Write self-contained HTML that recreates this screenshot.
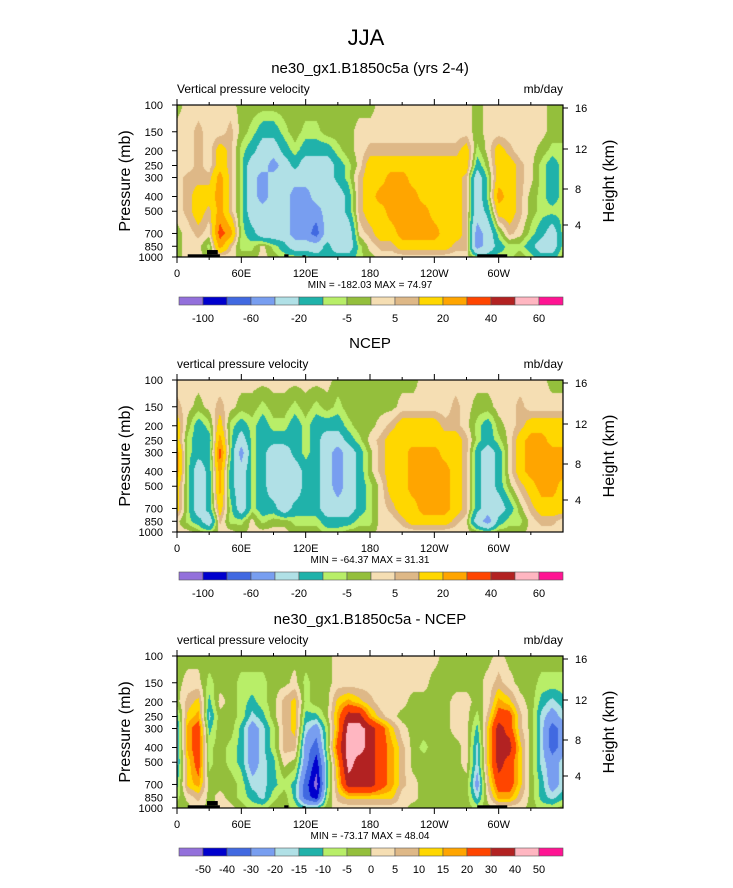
<!DOCTYPE html>
<html><head><meta charset="utf-8"><title>JJA vertical pressure velocity</title>
<style>
html,body{margin:0;padding:0;background:#fff;}
#wrap{position:relative;width:733px;height:888px;overflow:hidden;font-family:"Liberation Sans",sans-serif;}
canvas{position:absolute;}
svg{position:absolute;left:0;top:0;}
</style></head>
<body>
<div id="wrap">
<canvas id="c1" width="386" height="152" style="left:177px;top:105px"></canvas>
<canvas id="c2" width="386" height="152" style="left:177px;top:380px"></canvas>
<canvas id="c3" width="386" height="152" style="left:177px;top:656px"></canvas>
<svg id="svg" width="733" height="888"></svg>
</div>
<script>
// ---- data ----
const pressureLevels=[100,150,200,250,300,400,500,700,850,1000];
const lonStep=10;
const modelField=[
[-2,2,2,2,2,2,-2,-2,-2,-2,-2,-2,-2,-2,-2,-2,-2,-2,-2,2,2,2,2,2,2,2,2,2,-2,2,2,2,2,2,2,-2,-2],
[2,2,7,2,2,7,-2,-7,-15,-15,-7,-2,-7,-7,-2,-2,-2,2,2,2,2,2,2,2,2,2,2,2,-2,2,2,2,2,2,2,-2,-2],
[2,2,7,2,15,7,-7,-15,-30,-30,-15,-7,-15,-15,-15,-7,-2,2,7,7,7,7,7,7,7,7,7,15,-7,2,15,7,2,2,-2,-7,-7],
[2,2,7,2,15,7,-7,-30,-30,-50,-30,-15,-30,-30,-30,-15,-7,2,15,15,15,15,15,15,15,15,15,15,-15,-2,15,15,7,2,-7,-15,-7],
[2,7,7,7,25,7,-7,-30,-50,-30,-30,-30,-30,-30,-30,-15,-7,7,15,15,25,25,15,15,15,15,15,7,-30,-7,15,15,7,2,-7,-15,-7],
[2,7,15,15,25,7,-7,-30,-50,-30,-30,-50,-50,-30,-30,-30,-15,7,15,25,25,25,25,15,15,15,15,7,-30,-7,25,15,7,-2,-7,-15,-7],
[2,7,15,7,25,7,-7,-30,-30,-30,-30,-50,-50,-50,-30,-30,-15,7,15,15,25,25,25,25,15,15,15,7,-30,-15,15,15,7,-2,-7,-7,-7],
[-2,2,7,2,35,25,-7,-15,-30,-30,-30,-50,-50,-70,-30,-30,-30,2,7,15,15,25,25,25,25,15,15,7,-50,-30,-7,7,2,-7,-15,-30,-7],
[-2,2,2,-7,25,7,-7,-7,2,-7,-15,-30,-30,-30,-15,-30,-30,-7,2,7,7,15,15,15,15,15,7,7,-50,-30,-15,-7,-7,-15,-30,-30,-7],
[-2,2,2,-2,2,2,-2,-2,2,-2,-7,-7,-7,-15,-15,-15,-15,-7,-2,2,2,2,2,2,2,2,2,2,-7,-15,-7,-7,-2,-7,-15,-15,-2]
];
const ncepField=[
[2,2,2,2,2,2,2,2,2,2,2,2,2,2,2,-2,-2,-2,-2,-2,-2,-2,-2,2,2,2,2,2,2,2,2,2,2,2,2,-2,-2],
[7,2,-2,2,7,2,-2,-2,-7,-2,-2,-7,-2,-7,-2,-7,-2,-2,-2,-2,-2,2,2,2,2,2,7,2,-2,-2,2,2,7,2,2,2,2],
[15,-2,-15,-7,15,-7,-15,-7,-15,-7,-7,-15,-7,-15,-15,-15,-7,-2,-2,2,7,15,15,15,15,7,7,2,-7,-15,-2,2,7,15,15,15,15],
[15,-7,-15,-15,25,-7,-30,-7,-15,-15,-15,-15,-7,-15,-30,-30,-15,-7,2,7,15,15,15,15,15,15,15,7,-7,-15,-7,2,15,25,25,15,15],
[25,-7,-15,-15,35,-7,-50,-7,-15,-30,-30,-15,-7,-15,-30,-50,-30,-15,-2,7,15,15,25,25,25,15,15,7,-15,-30,-15,2,15,25,25,25,25],
[25,-7,-30,-15,25,-15,-30,-7,-15,-30,-30,-30,-15,-15,-30,-50,-30,-15,-2,7,15,15,25,25,25,25,15,7,-15,-30,-15,2,15,25,25,25,25],
[15,-7,-30,-15,25,-15,-30,-7,-15,-30,-30,-30,-15,-15,-30,-50,-30,-15,-7,2,15,15,25,25,25,25,15,7,-15,-30,-15,-2,7,15,25,25,15],
[15,-7,-30,-15,15,-7,-30,-7,-15,-15,-30,-15,-15,-15,-30,-30,-30,-15,-7,2,7,15,15,25,25,25,15,7,-15,-30,-30,-15,-2,7,15,15,15],
[2,-7,-15,-30,7,-7,-7,2,-7,-2,-2,-7,-7,-7,-15,-15,-15,-7,-7,2,2,7,15,15,15,15,7,2,-30,-50,-15,-7,-7,2,7,7,2],
[2,2,-2,-7,2,2,-2,2,2,2,2,-2,-2,-2,-7,-7,-2,-2,-2,2,2,2,2,2,2,2,2,2,-2,-7,-2,-2,-2,2,2,2,2]
];
const diffField=[
[-2,-2,-2,-2,-2,-2,-2,-2,-2,-2,-2,-2,-2,-2,-2,2,2,2,2,2,2,2,2,2,2,-2,-2,-2,-2,-2,2,-2,-2,-2,-2,-2,-2],
[-2,2,2,-7,-2,-2,-7,-7,-7,-2,-2,2,-7,-2,-2,2,2,2,2,2,2,2,2,2,-2,-2,-2,-2,-2,2,7,2,-2,-2,-7,-7,-7],
[-2,7,12,-12,2,-2,-7,-12,-7,-2,7,12,-7,-2,-2,12,17,12,7,2,2,2,-2,-2,-2,-2,2,2,-2,2,17,12,2,-2,-12,-17,-12],
[-12,12,17,-17,-2,-2,-7,-17,-12,-2,7,12,-12,-12,-2,17,35,35,17,7,2,-2,-2,-2,-2,-2,2,2,-7,7,25,25,7,-2,-17,-25,-17],
[-17,17,25,-12,-2,-2,-12,-25,-17,-7,7,12,-17,-25,-7,17,45,45,35,25,12,2,-2,-2,-2,-2,2,2,-12,12,35,25,7,-2,-17,-35,-25],
[-17,17,25,-7,-2,-7,-12,-25,-17,-7,7,7,-25,-35,-7,25,45,45,35,25,17,7,-2,-7,-2,-2,-2,2,-17,12,35,35,12,-2,-17,-35,-25],
[-17,12,25,-7,-2,-7,-12,-25,-17,-12,2,-2,-25,-45,-12,17,45,35,35,25,17,7,-2,-2,-2,-2,-2,2,-17,12,35,25,12,-2,-17,-25,-17],
[-12,12,17,-2,-2,-2,-7,-17,-17,-12,-7,-12,-35,-55,-12,12,35,35,35,25,17,7,2,-2,-2,-2,-2,-2,-25,7,25,25,12,-2,-12,-25,-17],
[-7,2,7,-2,2,-2,-7,-12,-17,-7,-2,-12,-35,-45,-7,7,12,12,12,12,12,2,2,-2,-2,-2,-2,-2,-17,2,17,17,7,-2,-12,-17,-12],
[-2,-2,2,-2,2,2,-2,-7,-7,-2,-2,-7,-12,-12,-2,2,2,2,2,2,2,2,-2,-2,-2,-2,-2,-2,-7,-2,2,2,2,-2,-7,-7,-2]
];
const contourLevelsAbs=[-100,-80,-60,-40,-20,-10,-5,0,5,10,20,30,40,50,60];
const contourLevelsDiff=[-50,-40,-30,-20,-15,-10,-5,0,5,10,15,20,30,40,50];
const colorbarLabelsAbs=["-100","","-60","","-20","","-5","","5","","20","","40","","60"];
const colorbarLabelsDiff=["-50","-40","-30","-20","-15","-10","-5","0","5","10","15","20","30","40","50"];
const pressureTickLabels=["100","150","200","250","300","400","500","700","850","1000"];
const lonTickLabels=["0","60E","120E","180","120W","60W"];
const lonTickValues=[0,60,120,180,240,300];
const heightTickLabels=["16","12","8","4"];
const heightTickValues=[16,12,8,4];
const fillColors=["#9370db","#0000cd","#4169e1","#789ef0","#b0e0e6","#20b2aa","#b8ee68","#94bf3c","#f5deb3","#deb887","#ffd700","#ffa500","#ff4500","#b22222","#ffb6c1","#ff1493"];
const terrainModel=[[10,40,1000,960],[28,38,960,900],[100,104,1000,960],[117,120,1000,975],[280,308,1000,960]];

// ---- geometry ----
const PX0=177, PW=386, PH=152;
const xScale=lon=>PX0+lon/360*PW;
const yScale=(p,top)=>top+Math.log10(p/100)*PH;
const heightY=(h,top)=>top+[3,44,84,120][heightTickValues.indexOf(h)];

function hexRgb(h){return [parseInt(h.substr(1,2),16),parseInt(h.substr(3,2),16),parseInt(h.substr(5,2),16)];}
const rgbs=fillColors.map(hexRgb);
function classify(v,lv){let k=0;while(k<lv.length&&v>=lv[k])k++;return k;}
function sample(field,lon,p){
  let c=lon/lonStep; let c0=Math.min(Math.floor(c),field[0].length-2); let tc=c-c0;
  let lp=Math.log(p); let r0=0;
  while(r0<pressureLevels.length-2&&p>pressureLevels[r0+1])r0++;
  let tr=(lp-Math.log(pressureLevels[r0]))/(Math.log(pressureLevels[r0+1])-Math.log(pressureLevels[r0]));
  tr=Math.max(0,Math.min(1,tr));
  const a=field[r0][c0],b=field[r0][c0+1],cc=field[r0+1][c0],d=field[r0+1][c0+1];
  return (a*(1-tc)+b*tc)*(1-tr)+(cc*(1-tc)+d*tc)*tr;
}
function drawField(id,field,lv){
  const cv=document.getElementById(id),ctx=cv.getContext('2d');
  const img=ctx.createImageData(PW,PH);
  for(let y=0;y<PH;y++){
    const p=100*Math.pow(10,(y+0.5)/PH);
    for(let x=0;x<PW;x++){
      const lon=(x+0.5)/PW*360;
      const k=classify(sample(field,lon,p),lv);
      const col=rgbs[k],i=(y*PW+x)*4;
      img.data[i]=col[0];img.data[i+1]=col[1];img.data[i+2]=col[2];img.data[i+3]=255;
    }
  }
  ctx.putImageData(img,0,0);
}
drawField('c1',modelField,contourLevelsAbs);
drawField('c2',ncepField,contourLevelsAbs);
drawField('c3',diffField,contourLevelsDiff);

const NS="http://www.w3.org/2000/svg", svg=document.getElementById('svg');
function mk(tag,attrs,parent){const e=document.createElementNS(NS,tag);for(const k in attrs)e.setAttribute(k,attrs[k]);(parent||svg).appendChild(e);return e;}
function txt(s,x,y,size,anchor,parent){const t=mk('text',{x:x,y:y,'font-size':size,'text-anchor':anchor||'middle','font-family':'Liberation Sans, sans-serif',fill:'#000'},parent);t.textContent=s;return t;}

let t=txt("JJA",366,45,22);



const panels=[
 {top:105,title:"ne30_gx1.B1850c5a (yrs 2-4)",left:"Vertical pressure velocity",mm:"MIN = -182.03  MAX = 74.97",terrain:terrainModel,cbLabels:colorbarLabelsAbs,name:"model"},
 {top:380,title:"NCEP",left:"vertical pressure velocity",mm:"MIN = -64.37  MAX = 31.31",terrain:[],cbLabels:colorbarLabelsAbs,name:"ncep"},
 {top:656,title:"ne30_gx1.B1850c5a - NCEP",left:"vertical pressure velocity",mm:"MIN = -73.17  MAX = 48.04",terrain:terrainModel,cbLabels:colorbarLabelsDiff,name:"difference"}
];
panels.forEach(pn=>{
  const T=pn.top,B=T+PH,g=mk('g',{});
  
  
  let e=txt(pn.title,370,T-32,15,'middle',g);
  
  
  e=txt(pn.left,177,T-12,12,'start',g);
  
  
  e=txt("mb/day",563,T-12,12,'end',g);
  
  
  // terrain
  pn.terrain.forEach(tr=>{
    const r=mk('rect',{x:xScale(tr[0]),y:yScale(tr[3],T),width:xScale(tr[1])-xScale(tr[0]),height:yScale(tr[2],T)-yScale(tr[3],T),fill:'#000'},g);
    
    
  });
  const fr=mk('rect',{x:PX0,y:T,width:PW,height:PH,fill:'none',stroke:'#000','stroke-width':1.2},g);
  
  
  // pressure ticks
  pressureLevels.forEach((p,i)=>{
    const y=yScale(p,T);
    mk('line',{x1:PX0-5,x2:PX0,y1:y,y2:y,stroke:'#000'},g);
    const l=txt(pressureTickLabels[i],163,y+4,11,'end',g);
    
    
  });
  e=txt("Pressure (mb)",0,0,16,'middle',g);
  e.setAttribute('transform','translate(130,'+(T+76)+') rotate(-90)');
  
  
  // height ticks
  heightTickValues.forEach((h,i)=>{
    const y=heightY(h,T);
    mk('line',{x1:PX0+PW,x2:PX0+PW+5,y1:y,y2:y,stroke:'#000'},g);
    const l=txt(heightTickLabels[i],575,y+4,11,'start',g);
    
    
  });
  e=txt("Height (km)",0,0,16,'middle',g);
  e.setAttribute('transform','translate(614,'+(T+76)+') rotate(-90)');
  
  
  // lon ticks
  for(let lon=0;lon<360;lon+=30){
    const x=xScale(lon),len=(lon%60===0)?6:3;
    mk('line',{x1:x,x2:x,y1:B,y2:B+len,stroke:'#000'},g);
    mk('line',{x1:x,x2:x,y1:T,y2:T-len,stroke:'#000'},g);
  }
  lonTickValues.forEach((lon,i)=>{
    const l=txt(lonTickLabels[i],xScale(lon),B+20,11,'middle',g);
    
    
  });
  e=txt(pn.mm,370,B+31,10,'middle',g);
  
  
  // colorbar
  const cbY=B+40,cbX=179,bw=24;
  fillColors.forEach((c,k)=>{
    const r=mk('rect',{x:cbX+k*bw,y:cbY,width:bw,height:8,fill:c,stroke:'#555','stroke-width':0.6},g);
    
    
  });
  pn.cbLabels.forEach((s,k)=>{
    if(!s)return;
    const l=txt(s,cbX+(k+1)*bw,cbY+25,11,'middle',g);
    
    
  });
});
</script>
</body></html>
